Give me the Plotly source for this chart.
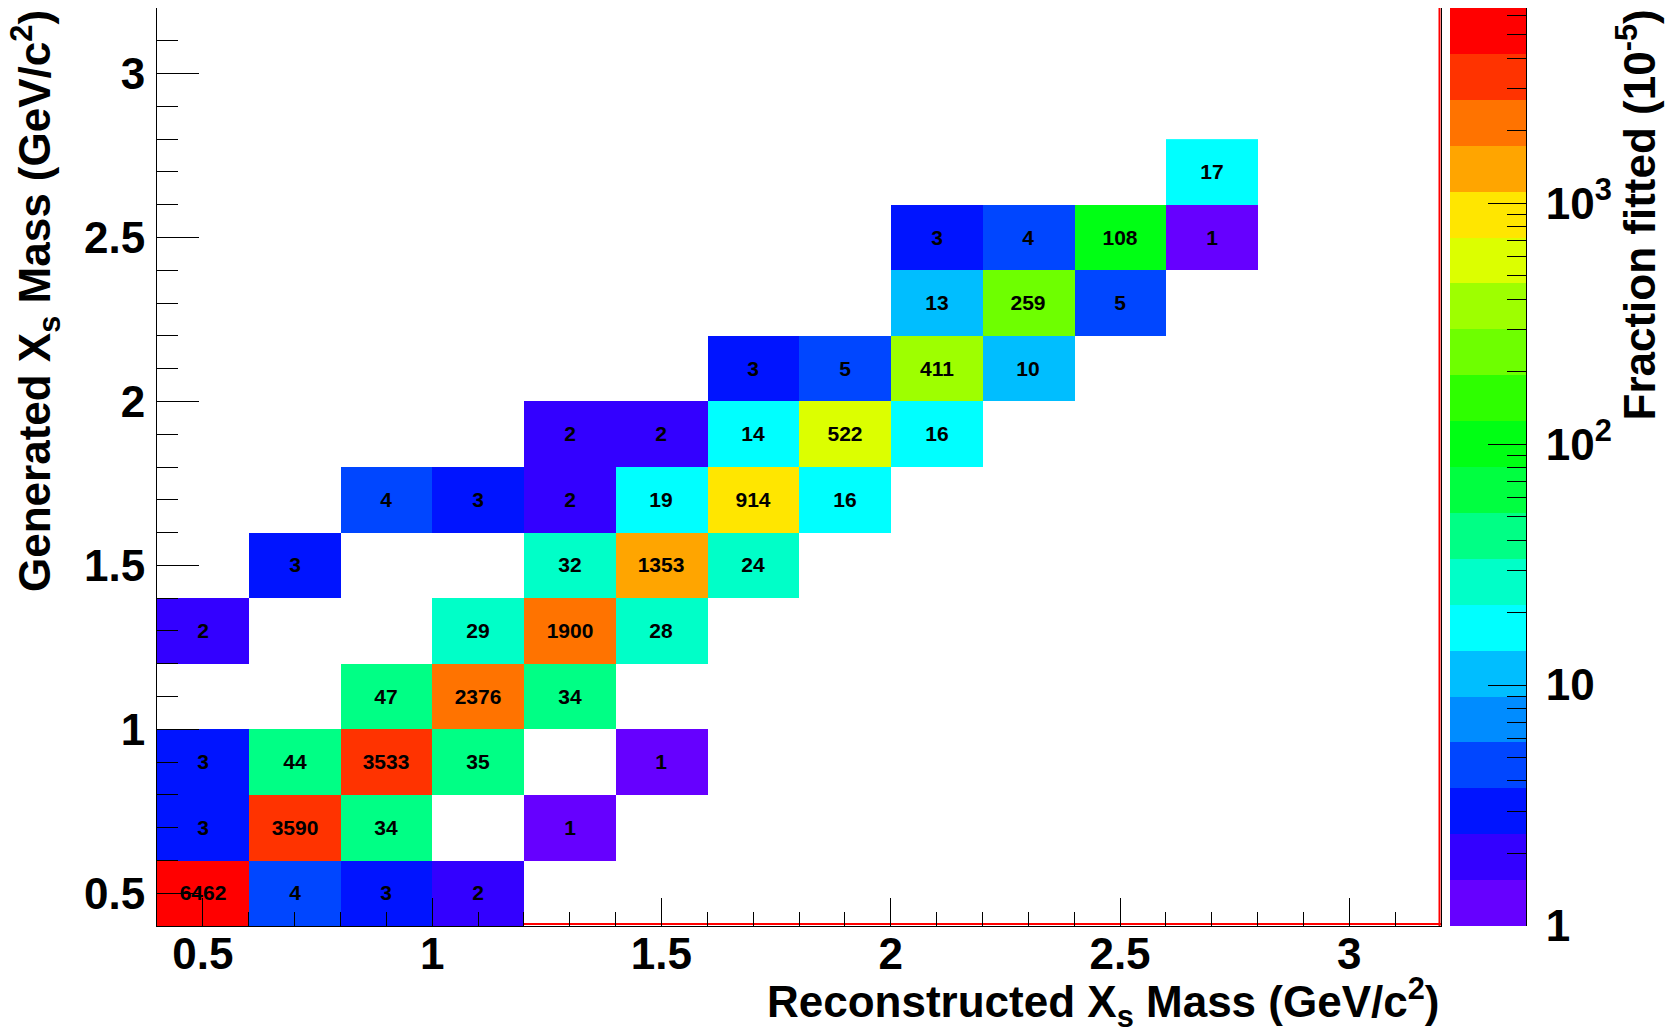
import numpy as np
import plotly.graph_objects as go

# ---------------- data ----------------
rec_mass = [0.5, 0.7, 0.9, 1.1,
            0.5, 0.7, 0.9, 1.3,
            0.5, 0.7, 0.9, 1.1, 1.5,
            0.9, 1.1, 1.3,
            0.5, 1.1, 1.3, 1.5,
            0.7, 1.3, 1.5, 1.7,
            0.9, 1.1, 1.3, 1.5, 1.7, 1.9,
            1.3, 1.5, 1.7, 1.9, 2.1,
            1.7, 1.9, 2.1, 2.3,
            2.1, 2.3, 2.5,
            2.1, 2.3, 2.5, 2.7,
            2.7]
gen_mass = [0.5, 0.5, 0.5, 0.5,
            0.7, 0.7, 0.7, 0.7,
            0.9, 0.9, 0.9, 0.9, 0.9,
            1.1, 1.1, 1.1,
            1.3, 1.3, 1.3, 1.3,
            1.5, 1.5, 1.5, 1.5,
            1.7, 1.7, 1.7, 1.7, 1.7, 1.7,
            1.9, 1.9, 1.9, 1.9, 1.9,
            2.1, 2.1, 2.1, 2.1,
            2.3, 2.3, 2.3,
            2.5, 2.5, 2.5, 2.5,
            2.7]
fraction = [6462, 4, 3, 2,
            3, 3590, 34, 1,
            3, 44, 3533, 35, 1,
            47, 2376, 34,
            2, 29, 1900, 28,
            3, 32, 1353, 24,
            4, 3, 2, 19, 914, 16,
            2, 2, 14, 522, 16,
            3, 5, 411, 10,
            13, 259, 5,
            3, 4, 108, 1,
            17]

bin_centers = [0.5, 0.7, 0.9, 1.1, 1.3, 1.5, 1.7, 1.9, 2.1, 2.3, 2.5, 2.7]
cbar_tickvals = [1, 10, 100, 1000]
cbar_ticktext = ["1", "10", "10<sup>2</sup>", "10<sup>3</sup>"]

# ROOT-like 20-step rainbow palette (bottom -> top)
palette = ["#6600FF", "#3300FF", "#0014FF", "#0046FF", "#008CFF",
           "#00BEFF", "#00FFFF", "#00FFC8", "#00FF85", "#00FF40",
           "#00FF14", "#2EFF00", "#6EFF00", "#9EFF00", "#DCFF00",
           "#FFE600", "#FFA500", "#FF7300", "#FF3300", "#FF0000"]

# ---------------- build grid ----------------
nb = len(bin_centers)
z = [[None] * nb for _ in range(nb)]
txt = [[""] * nb for _ in range(nb)]
for xv, yv, v in zip(rec_mass, gen_mass, fraction):
    i = bin_centers.index(yv)
    j = bin_centers.index(xv)
    z[i][j] = np.log10(v)
    txt[i][j] = str(v)

ZMAX = float(np.log10(max(fraction)))
nbands = len(palette)
cscale = []
for k, c in enumerate(palette):
    cscale.append([k / nbands, c])
    cscale.append([(k + 1) / nbands, c])

FONT = "Liberation Sans, Arial, sans-serif"
bigfont = dict(family=FONT, size=44, color="black", weight="bold")

fig = go.Figure()
fig.add_trace(go.Heatmap(
    x=bin_centers, y=bin_centers, z=z, text=txt,
    texttemplate="%{text}",
    textfont=dict(family=FONT, size=21, color="black", weight="bold"),
    colorscale=cscale, zmin=0, zmax=ZMAX, showscale=False,
    hoverinfo="skip", xaxis="x", yaxis="y"))

# colour bar drawn as its own axis so it gets major + minor log ticks
band_edges = np.linspace(0, ZMAX, nbands + 1)
band_mid = (band_edges[:-1] + band_edges[1:]) / 2
fig.add_trace(go.Heatmap(
    x=[0], y=band_edges, z=[[m] for m in band_mid],
    colorscale=cscale, zmin=0, zmax=ZMAX, showscale=False,
    hoverinfo="skip", xaxis="x2", yaxis="y2"))

minor_vals = [np.log10(k * 10 ** n) for n in range(4) for k in range(2, 10)
              if k * 10 ** n <= max(fraction)]

# page body adds an 8px offset, so the figure is sized/placed to compensate
W, H = 1669, 1020
L, R, T, B = 149, 151, 0, 102
pw = W - L - R
ph = H - T - B
main_right = (1433 - L) / pw
cb_left = (1442 - L) / pw

fig.update_layout(
    width=W, height=H,
    margin=dict(l=L, r=R, t=T, b=B, pad=0),
    paper_bgcolor="white", plot_bgcolor="white",
    showlegend=False,
    xaxis=dict(domain=[0, main_right], range=[0.4, 3.2], anchor="y",
               tick0=0, dtick=0.5, ticks="inside", ticklen=28, tickwidth=1,
               tickcolor="black", showline=True, linecolor="black", linewidth=1,
               mirror=True, showgrid=False, zeroline=False,
               tickfont=bigfont, ticklabelstandoff=-11,
               minor=dict(dtick=0.1, ticklen=14, ticks="inside",
                          tickcolor="black", tickwidth=1, showgrid=False)),
    yaxis=dict(domain=[0, 1], range=[0.4, 3.2], anchor="x",
               tick0=0, dtick=0.5, ticks="inside", ticklen=42, tickwidth=1,
               tickcolor="black", showline=True, linecolor="black", linewidth=1,
               mirror=True, showgrid=False, zeroline=False,
               tickfont=bigfont, ticklabelstandoff=2,
               minor=dict(dtick=0.1, ticklen=21, ticks="inside",
                          tickcolor="black", tickwidth=1, showgrid=False)),
    xaxis2=dict(domain=[cb_left, 1], range=[-0.5, 0.5], anchor="y2",
                visible=False, fixedrange=True),
    yaxis2=dict(domain=[0, 1], range=[0, ZMAX], anchor="x2", side="right",
                tickmode="array", tickvals=[np.log10(v) for v in cbar_tickvals],
                ticktext=cbar_ticktext, ticks="inside", ticklen=38, tickwidth=1,
                tickcolor="black", showline=True, linecolor="black", linewidth=1,
                showgrid=False, zeroline=False, tickfont=bigfont,
                ticklabelstandoff=10,
                minor=dict(tickmode="array", tickvals=minor_vals, ticklen=19,
                           ticks="inside", tickcolor="black", tickwidth=1,
                           showgrid=False)),
)

# red inner frame lines (right and bottom) as in the ROOT canvas
fig.add_shape(type="line", xref="x domain", yref="y domain",
              x0=1 - 1.5 / 1284, x1=1 - 1.5 / 1284, y0=0, y1=1,
              line=dict(color="red", width=2), layer="below")
fig.add_shape(type="line", xref="x domain", yref="y domain",
              x0=0, x1=1, y0=2 / 918, y1=2 / 918,
              line=dict(color="red", width=2), layer="below")

# axis titles
fig.add_annotation(text="Reconstructed X<sub>s</sub> Mass (GeV/c<sup>2</sup>)",
                   xref="x domain", yref="paper", x=1, y=-0.0468,
                   xanchor="right", yanchor="top", showarrow=False,
                   font=bigfont)
fig.add_annotation(text="Generated X<sub>s</sub> Mass (GeV/c<sup>2</sup>)",
                   xref="paper", yref="paper", x=(27 - L) / pw, y=1.0,
                   xanchor="center", yanchor="top", textangle=-90,
                   showarrow=False, font=bigfont)
fig.add_annotation(text="Fraction fitted (10<sup>-5</sup>)",
                   xref="paper", yref="paper", x=(1628 - L) / pw, y=1.0,
                   xanchor="center", yanchor="top", textangle=-90,
                   showarrow=False, font=bigfont)

fig.write_html("out.html")
